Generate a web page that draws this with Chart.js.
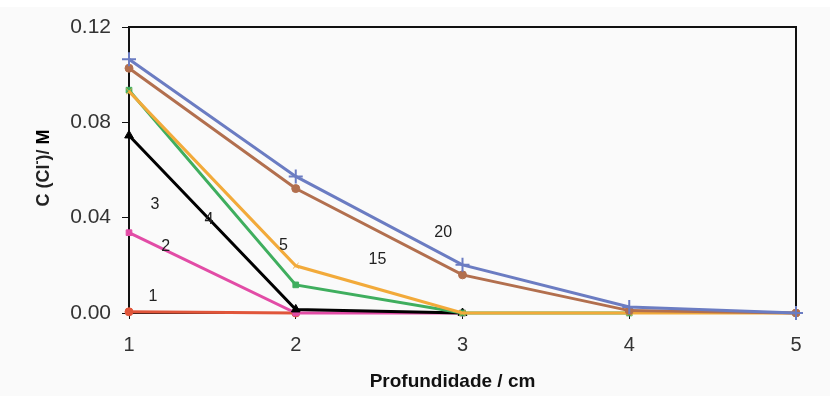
<!DOCTYPE html>
<html>
<head>
    <title>Cl- profile</title>
    <script src="https://cdn.jsdelivr.net/npm/chart.js"></script>
    <style>
        body { margin: 0; background: #ffffff; }
        #wrap { width: 830px; height: 396px; }
    </style>
</head>
<body>
<div id="wrap"><canvas id="chart" width="830" height="396"></canvas></div>
<script>
    // depth (cm) on x, chloride concentration (M) on y
    const depth = [1, 2, 3, 4, 5];
    const yTicks = [0, 0.04, 0.08, 0.12];

    const s20 = [0.1065, 0.0573, 0.0202, 0.0025, 0];
    const s15 = [0.1027, 0.0522, 0.0160, 0.0010, 0];
    const s5o = [0.0930, 0.0198, 0, 0, 0];
    const s5g = [0.0935, 0.0118, 0, 0];
    const s4 = [0.0745, 0.0015, 0];
    const s2 = [0.0337, 0, 0];
    const s1 = [0.0005, 0];

    // curve labels: text, x (cm), y (M)
    const labelText = ['1', '2', '3', '4', '5', '15', '20'];
    const labelX = [1.144, 1.22, 1.156, 1.48, 1.926, 2.49, 2.884];
    const labelY = [0.0067, 0.0278, 0.0455, 0.0394, 0.0282, 0.0223, 0.0337];

    function pts(vals) {
        return vals.map((v, i) => ({ x: depth[i], y: v }));
    }

    function ds(vals, color, style, r) {
        return {
            data: pts(vals),
            borderColor: color,
            backgroundColor: color,
            borderWidth: 3,
            pointStyle: style,
            pointRadius: r,
            pointBorderWidth: style === 'cross' ? 2 : 1,
            tension: 0,
            clip: false
        };
    }

    const frame = {
        id: 'frame',
        beforeDraw(chart) {
            const c = chart.ctx;
            c.save();
            c.fillStyle = '#fafafa';
            c.fillRect(0, 7, chart.width, chart.height - 7);
            c.restore();
        },
        beforeDatasetsDraw(chart) {
            const a = chart.chartArea;
            const c = chart.ctx;
            c.save();
            c.strokeStyle = '#111';
            c.lineWidth = 2;
            c.strokeRect(a.left, a.top, a.right - a.left, a.bottom - a.top);
            c.restore();
        },
        afterDatasetsDraw(chart) {
            const c = chart.ctx;
            const xs = chart.scales.x, ys = chart.scales.y;
            const a = chart.chartArea;
            c.save();
            c.fillStyle = '#222';
            c.font = '16px "Liberation Sans", Arial';
            c.textAlign = 'center';
            c.textBaseline = 'middle';
            labelText.forEach((t, i) => {
                c.fillText(t, xs.getPixelForValue(labelX[i]), ys.getPixelForValue(labelY[i]));
            });

            // x title
            c.fillStyle = '#111';
            c.font = 'bold 19px "Liberation Sans", Arial';
            c.fillText('Profundidade / cm', (a.left + a.right) / 2 - 10, 382);

            // y title, rotated, bold M
            c.translate(44, (a.top + a.bottom) / 2 - 2);
            c.rotate(-Math.PI / 2);
            c.textAlign = 'left';
            c.fillStyle = '#222';
            const fMain = 'bold 18px "Liberation Sans", Arial';
            const fSup = 'bold 12px "Liberation Sans", Arial';
            const p1 = 'C (Cl', sup = '-', p2 = ')/ ', p3 = 'M';
            c.font = fMain;
            const w1 = c.measureText(p1).width;
            const w2 = c.measureText(p2).width;
            const w3 = c.measureText(p3).width;
            c.font = fSup;
            const ws = c.measureText(sup).width;
            let x0 = -(w1 + ws + w2 + w3) / 2;
            c.font = fMain;
            c.fillText(p1, x0, 0);
            c.font = fSup;
            c.fillText(sup, x0 + w1, -6);
            c.font = fMain;
            c.fillText(p2, x0 + w1 + ws, 0);
            c.fillStyle = '#000';
            c.fillText(p3, x0 + w1 + ws + w2, 0);
            c.restore();
        }
    };

    new Chart(document.getElementById('chart'), {
        type: 'line',
        data: {
            datasets: [
                ds(s20, '#6b7cc2', 'cross', 7),
                ds(s15, '#b26f4e', 'circle', 4),
                ds(s5o, '#f2aa3a', 'crossRot', 4),
                ds(s5g, '#3fae5e', 'rect', 4),
                ds(s4, '#000000', 'triangle', 5),
                ds(s2, '#e24ca6', 'rect', 4),
                ds(s1, '#e0553a', 'circle', 4)
            ]
        },
        options: {
            responsive: false,
            animation: false,
            devicePixelRatio: 1,
            layout: { padding: { left: 0, top: 27, right: 34, bottom: 0 } },
            plugins: { legend: { display: false }, tooltip: { enabled: false } },
            scales: {
                x: {
                    type: 'linear',
                    min: 1, max: 5,
                    afterFit: s => { s.height = 83; },
                    afterBuildTicks: s => { s.ticks = depth.map(v => ({ value: v })); },
                    grid: { drawOnChartArea: false, tickLength: 6, color: '#111', lineWidth: 1 },
                    border: { display: true, color: '#111', width: 2 },
                    ticks: { color: '#333', padding: 14, font: { size: 20, family: '"Liberation Sans", Arial' } }
                },
                y: {
                    min: 0, max: 0.12,
                    afterFit: s => { s.width = 129; },
                    afterBuildTicks: s => { s.ticks = yTicks.map(v => ({ value: v })); },
                    grid: { drawOnChartArea: false, tickLength: 7, color: '#111', lineWidth: 1 },
                    border: { display: true, color: '#111', width: 2 },
                    ticks: {
                        color: '#333', padding: 11,
                        font: { size: 21, family: '"Liberation Sans", Arial' },
                        callback: v => v.toFixed(2)
                    }
                }
            }
        },
        plugins: [frame]
    });
</script>
</body>
</html>
